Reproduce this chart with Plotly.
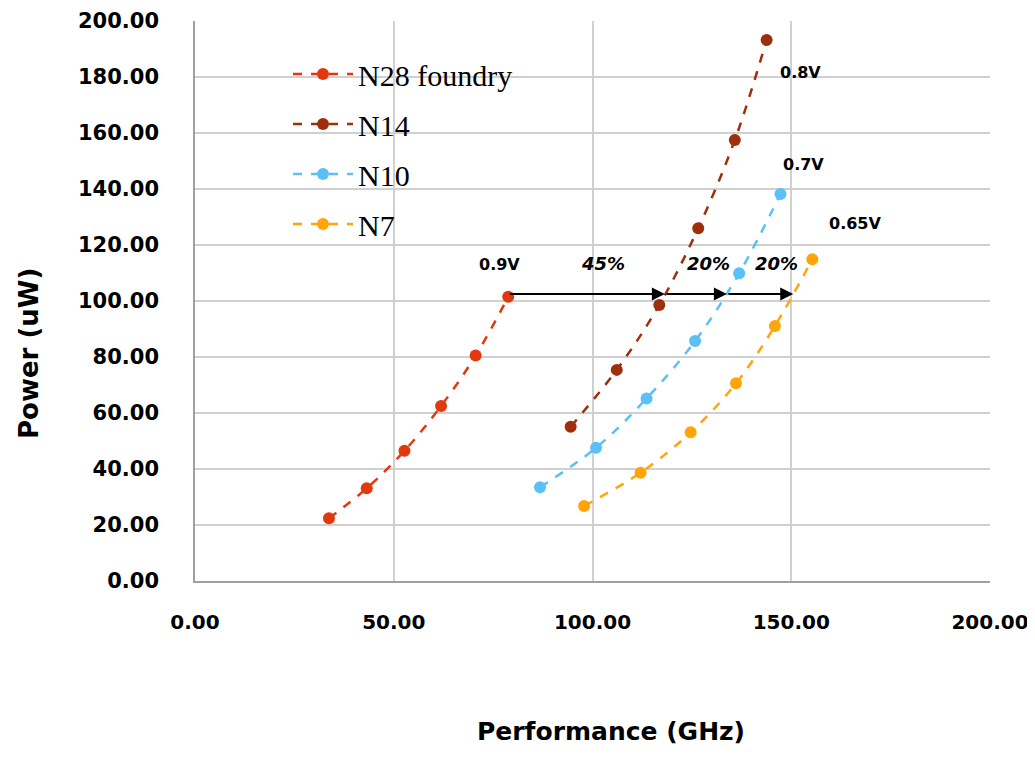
import plotly.graph_objects as go

# Data (Performance GHz, Power uW)
n28_x = [33.7, 43.2, 52.7, 61.9, 70.6, 78.8]
n28_y = [22.4, 33.1, 46.5, 62.5, 80.5, 101.5]
n14_x = [94.5, 106.1, 116.8, 126.6, 135.8, 143.8]
n14_y = [55.1, 75.4, 98.6, 126.0, 157.5, 193.2]
n10_x = [86.8, 100.9, 113.6, 125.8, 136.9, 147.3]
n10_y = [33.5, 47.6, 65.2, 85.7, 109.9, 138.2]
n7_x = [97.9, 112.1, 124.7, 136.1, 145.9, 155.3]
n7_y = [26.8, 38.7, 53.1, 70.6, 91.1, 114.9]

series_names = ["N28 foundry", "N14", "N10", "N7"]
series_colors = ["#E2380E", "#9E2F0C", "#5AC0F5", "#FFA50A"]

# Annotations
arrow_y = 102.5
arrow_x = [78.8, 118.2, 133.8, 150.5]
pct_labels = ["45%", "20%", "20%"]
pct_x = [102.7, 129.1, 146.3]
pct_y = 113.3
volt_labels = ["0.9V", "0.8V", "0.7V", "0.65V"]
volt_x = [76.7, 152.2, 153.0, 166.0]
volt_y = [112.9, 181.5, 148.6, 127.7]

OFF = 8                     # default page body margin
W, H = 1027, 757 - 2 * OFF
L, T = 195 - OFF, 21 - OFF
pw, ph = 795, 560
R, B = W - L - pw, H - T - ph


def px_to_paper(sx, sy):
    return (sx - OFF - L) / pw, (H - B - (sy - OFF)) / ph


fig = go.Figure()
xs = [n28_x, n14_x, n10_x, n7_x]
ys = [n28_y, n14_y, n10_y, n7_y]
for i, (name, col) in enumerate(zip(series_names, series_colors)):
    fig.add_trace(go.Scatter(
        x=xs[i], y=ys[i], name=name, mode="lines+markers",
        line=dict(color=col, width=2.5, dash="dash", shape="spline"),
        marker=dict(color=col, size=12),
        legendgroup=name,
    ))

font_sans = "DejaVu Sans"
for i in range(3):
    fig.add_annotation(
        x=arrow_x[i + 1], y=arrow_y, ax=arrow_x[i], ay=arrow_y,
        xref="x", yref="y", axref="x", ayref="y",
        showarrow=True, arrowhead=2, arrowsize=1.3, arrowwidth=2,
        arrowcolor="black", text="",
    )
for t, x in zip(pct_labels, pct_x):
    fig.add_annotation(x=x, y=pct_y, text="<b><i>" + t + "</i></b>", showarrow=False,
                       font=dict(family=font_sans, size=18, color="black"))
for t, x, y in zip(volt_labels, volt_x, volt_y):
    fig.add_annotation(x=x, y=y, text="<b>" + t + "</b>", showarrow=False,
                       font=dict(family=font_sans, size=16, color="black"))

# Axis titles as annotations (screen pixel positions)
tx, ty = px_to_paper(611, 731)
fig.add_annotation(x=tx, y=ty, xref="paper", yref="paper", xanchor="center", yanchor="middle",
                   text="<b>Performance (GHz)</b>",
                   showarrow=False, font=dict(family=font_sans, size=25, color="black"))
tx, ty = px_to_paper(29, 354)
fig.add_annotation(x=tx, y=ty, xref="paper", yref="paper", xanchor="center", yanchor="middle",
                   text="<b>Power (uW)</b>", textangle=-90,
                   showarrow=False, font=dict(family=font_sans, size=26, color="black"))

lx, ly = px_to_paper(288, 48)
fig.update_layout(
    width=W, height=H,
    margin=dict(l=L, r=R, t=T, b=B),
    plot_bgcolor="white", paper_bgcolor="white",
    showlegend=True,
    legend=dict(x=lx, y=ly, xanchor="left", yanchor="top",
                bgcolor="rgba(0,0,0,0)", font=dict(family="Liberation Serif", size=30, color="black"),
                tracegroupgap=8, traceorder="grouped", itemwidth=60),
    xaxis=dict(range=[0, 200], dtick=50, tickformat=".2f", showgrid=True, automargin=False,
               gridcolor="#D0D0D0", gridwidth=1.5, showline=True, linecolor="#A0A0A0", linewidth=1.5,
               zeroline=False, ticks="", ticklabelstandoff=22, ticklabeloverflow="allow",
               tickfont=dict(family=font_sans, size=20, color="black", weight="bold")),
    yaxis=dict(range=[0, 200], dtick=20, tickformat=".2f", showgrid=True, automargin=False,
               gridcolor="#D0D0D0", gridwidth=1.5, showline=True, linecolor="#A0A0A0", linewidth=1.5,
               zeroline=False, ticks="", ticklabelstandoff=30, ticklabeloverflow="allow",
               tickfont=dict(family=font_sans, size=21, color="black", weight="bold")),
)
fig.write_html("out.html")
